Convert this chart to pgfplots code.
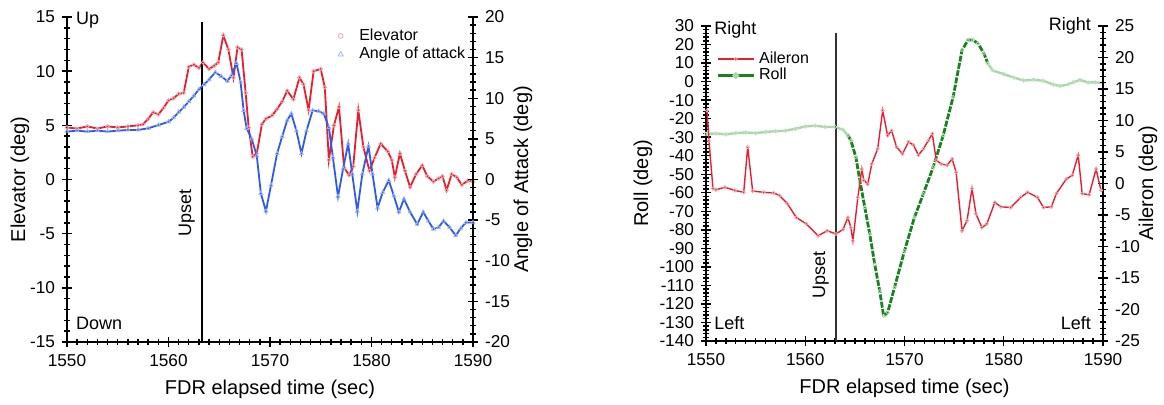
\documentclass[border=0pt]{standalone}
\usepackage{pgfplots}
\usepackage{pgfplotstable}
\pgfplotsset{compat=1.18}
\usepackage{fontspec}
\setmainfont{Liberation Sans}
\definecolor{elevred}{RGB}{232,30,45}
\definecolor{elevpink}{RGB}{245,160,170}
\definecolor{aoablue}{RGB}{45,90,235}
\definecolor{aoapale}{RGB}{160,180,245}
\definecolor{rolldark}{RGB}{25,130,30}
\definecolor{rolllight}{RGB}{170,215,170}

\pgfplotstableread{
t v
1550 4.8
1551 4.7
1552 4.9
1553 4.7
1554 4.9
1555 4.8
1556 4.9
1557 5.0
1557.5 5.1
1558 5.6
1558.5 6.2
1559 6.0
1559.5 6.6
1560 7.3
1560.5 7.5
1561 7.9
1561.5 8.0
1562 10.4
1562.5 10.6
1563 10.3
1563.4 10.8
1564 10.2
1564.5 10.5
1564.9 10.8
1565.4 13.3
1565.9 12.0
1566.4 9.4
1566.8 12.2
1567.2 12.0
1567.6 8.0
1567.9 4.8
1568.3 2.1
1568.7 2.4
1569.2 5.1
1569.6 5.6
1570.2 5.9
1570.7 6.5
1571.2 7.2
1571.7 8.2
1572.3 7.4
1572.9 9.4
1573.3 8.8
1573.8 6.4
1574.3 10.0
1575.0 10.2
1575.4 8.5
1575.8 1.8
1576.3 5.0
1576.8 6.7
1577.3 1.1
1577.8 0.4
1578.2 1.2
1578.7 6.4
1579.2 3.0
1579.8 0.8
1580.3 2.0
1580.9 3.3
1581.6 2.6
1582.0 1.8
1582.3 0.2
1582.8 2.4
1583.3 0.8
1583.8 -0.7
1584.4 0.5
1585.0 1.3
1585.5 0.3
1586.1 -0.2
1586.6 0.1
1587.0 0.3
1587.4 -1.0
1587.9 0.5
1588.4 0.2
1588.9 -0.5
1589.5 -0.1
1590 -0.2
}\elevtab

\pgfplotstableread{
t v
1550 5.9
1551 6.0
1552 5.9
1553 6.0
1554 5.9
1555 6.0
1556 6.1
1557 6.1
1558 6.3
1559 6.7
1560 7.1
1560.5 7.6
1561 8.3
1561.5 8.9
1562 9.6
1562.5 10.3
1563 11.1
1563.5 11.7
1564 12.3
1564.6 13.2
1565.2 12.7
1565.8 12.1
1566.2 12.8
1566.7 14.3
1567.1 12.0
1567.4 8.5
1567.7 6.3
1568.2 5.0
1568.7 2.9
1569.1 -1.7
1569.6 -3.9
1570.1 -0.7
1570.7 3.2
1571.2 5.3
1571.7 7.3
1572.1 8.1
1572.6 6.0
1573.1 3.2
1573.6 6.0
1574.2 8.5
1574.8 8.4
1575.3 8.1
1575.8 6.4
1576.2 2.7
1576.7 -2.1
1577.2 1.3
1577.7 4.4
1578.1 0.7
1578.6 -3.9
1579.1 0.7
1579.7 4.1
1580.1 0.7
1580.6 -3.5
1581.1 -1.6
1581.7 -0.1
1582.2 -2.0
1582.7 -4.0
1583.2 -2.4
1583.8 -4.0
1584.5 -5.5
1585.1 -4.0
1585.6 -5.1
1586.1 -6.1
1586.6 -5.9
1587.1 -5.1
1587.7 -5.9
1588.3 -6.9
1588.8 -6.0
1589.3 -5.3
1590 -5.3
}\aoatab

\pgfplotstableread{
t v
1550 -28.2
1551 -28.0
1552 -28.5
1553 -27.8
1554 -27.5
1555 -27.8
1556 -27.2
1557 -26.8
1558 -26.5
1559 -25.5
1560 -24.2
1561 -23.8
1562 -24.5
1563 -24.5
1563.8 -26.0
1564.3 -29.0
}\rollA

\pgfplotstableread{
t v
1564.3 -29.0
1564.6 -31.8
1565.1 -40.8
1565.5 -53.4
1566.0 -67.9
1566.5 -82.3
1567.0 -98.6
1567.5 -113.0
1567.9 -126.5
1568.3 -124.7
1569.0 -111.0
1570.0 -91.3
1571.0 -73.3
1571.9 -60.6
1572.9 -46.0
1573.9 -29.0
1574.9 -8.3
1575.8 17.0
1576.4 22.4
1576.9 22.4
1577.4 20.6
1578.0 15.2
1578.4 9.7
}\rollB

\pgfplotstableread{
t v
1578.4 9.7
1578.9 6.0
1580 4.0
1581 2.2
1582 0.6
1583 1.0
1584 0.4
1585 -1.6
1585.7 -2.4
1586.5 -1.5
1587 -0.4
1587.7 0.9
1588.5 -0.5
1589.2 -0.4
1590 -0.8
}\rollC

\pgfplotstableread{
t v
1550.1 11.6
1550.3 6.8
1550.7 -0.8
1551.0 -1.0
1551.9 -0.6
1552.9 -1.1
1553.8 -1.4
1554.2 5.8
1554.7 -1.2
1555.8 -1.4
1556.8 -1.5
1557.4 -1.9
1558.2 -3.2
1559.1 -5.4
1560.1 -6.4
1561.3 -8.3
1562.2 -7.5
1563.1 -8.0
1563.8 -7.3
1564.3 -5.4
1564.6 -7.0
1564.8 -9.1
1565.3 -2.2
1565.7 2.3
1565.9 0.5
1566.3 -0.1
1566.7 3.1
1567.3 5.5
1567.8 11.6
1568.3 7.6
1568.7 8.4
1569.2 5.8
1569.8 4.7
1570.4 6.6
1570.9 6.1
1571.4 4.5
1571.9 5.5
1572.4 6.8
1572.8 7.9
1573.2 3.7
1573.7 3.1
1574.3 2.9
1574.8 3.9
1575.2 1.8
1575.8 -7.5
1576.3 -5.9
1576.8 -0.8
1577.2 -4.8
1577.8 -7.0
1578.3 -6.4
1579.1 -3.0
1579.7 -3.7
1580.7 -3.8
1581.7 -2.2
1582.4 -1.4
1583.4 -2.2
1584.0 -3.8
1584.8 -3.7
1585.3 -1.6
1586.3 0.7
1586.9 1.3
1587.5 4.5
1587.9 -1.6
1588.6 -1.8
1589.3 2.3
1589.8 -1.1
}\ailtab

\tikzset{annot/.style={font=\fontsize{9}{10}\selectfont}}
\pgfplotsset{
  base/.style={
    scale only axis, anchor=south west, clip=false,
    xmin=1550, xmax=1590,
    tick align=center,
    major tick length=5pt, minor tick length=3pt,
    tick style={black, line width=0.7pt},
    axis line style={black, line width=1pt, -},
    tick label style={font=\fontsize{8.6}{9}\selectfont},
    label style={font=\fontsize{10}{12}\selectfont},
    /pgf/number format/1000 sep={},
    /pgf/number format/assume math mode=true,
  },
  ylab/.style={every axis y label/.style={at={(axis description cs:#1,0.5)}, rotate=90, anchor=center}},
  legend image code/.code={\draw[mark repeat=2,mark phase=2,#1] plot coordinates {(0pt,0pt) (9pt,0pt) (18pt,0pt)};},
}

\begin{document}
\begin{tikzpicture}
\useasboundingbox (0,0) rectangle (582pt,202.5pt);

% ---------- left panel ----------
\begin{axis}[base, at={(33.5pt,31.5pt)}, width=203pt, height=162.5pt,
  ymin=-15, ymax=15,
  axis x line*=bottom, axis y line*=left,
  xtick={1550,1560,...,1590}, minor x tick num=9,
  ytick={-15,-10,...,15}, minor y tick num=4,
  ylab=-0.116,
  xlabel={FDR elapsed time (sec)}, ylabel={Elevator (deg)}]
\addplot[elevred, line width=0.9pt, mark=o, mark size=0.9pt,
  mark options={draw=elevpink, solid, line width=0.4pt}] table[x=t,y=v]{\elevtab};
\addplot[black, line width=0.8pt] coordinates {(1563.3,-15) (1563.3,14.5)};
\node[annot, rotate=90, anchor=south] at (axis cs:1563.3,-3.1) {Upset};
\node[annot, anchor=west] at (rel axis cs:0.005,0.99) {Up};
\node[annot, anchor=west] at (rel axis cs:0.005,0.058) {Down};
\end{axis}

\begin{axis}[base, at={(33.5pt,31.5pt)}, width=203pt, height=162.5pt,
  ymin=-20, ymax=20,
  axis y line*=right, axis x line=none,
  ytick={-20,-15,...,20}, minor y tick num=4,
  ylab=1.123,
  ylabel={Angle of Attack (deg)},
  legend style={at={(rel axis cs:0.652,0.99)}, anchor=north west, draw=none, fill=none,
    font=\fontsize{8}{9}\selectfont, row sep=-2pt,
    /tikz/every odd column/.append style={column sep=6pt}},
  legend cell align=left]
\addlegendimage{only marks, mark=o, mark size=1.2pt, elevpink}
\addlegendentry{Elevator}
\addlegendimage{only marks, mark=triangle, mark size=1.5pt, aoapale}
\addlegendentry{Angle of attack}
\addplot[aoablue, line width=0.9pt, mark=triangle, mark size=1.1pt, forget plot,
  mark options={draw=aoapale, solid, line width=0.4pt}] table[x=t,y=v]{\aoatab};
\end{axis}

% ---------- right panel ----------
\begin{axis}[base, at={(353pt,32pt)}, width=198.5pt, height=157.5pt,
  ymin=-140, ymax=30,
  axis x line*=bottom, axis y line*=left,
  xtick={1550,1560,...,1590}, minor x tick num=9,
  ytick={-140,-130,...,30}, minor y tick num=4,
  ylab=-0.159,
  xlabel={FDR elapsed time (sec)}, ylabel={Roll (deg)}]
\addplot[rolllight, line width=1.2pt, mark=o, mark size=0.9pt,
  mark options={draw=rolllight!70!white, solid, line width=0.4pt}] table[x=t,y=v]{\rollA};
\addplot[rolldark, line width=1.4pt, dash pattern=on 3pt off 0.7pt, mark=o, mark size=0.8pt,
  mark options={draw=rolllight, solid, line width=0.4pt}] table[x=t,y=v]{\rollB};
\addplot[rolllight, line width=1.2pt, mark=o, mark size=0.9pt,
  mark options={draw=rolllight!70!white, solid, line width=0.4pt}] table[x=t,y=v]{\rollC};
\addplot[black!80, line width=0.7pt] coordinates {(1563.1,-140) (1563.1,26.2)};
\node[annot, rotate=90, anchor=south] at (axis cs:1563.1,-104.4) {Upset};
\node[annot, anchor=west] at (rel axis cs:0.003,0.987) {Right};
\node[annot, anchor=west] at (rel axis cs:0.003,0.057) {Left};
\node[annot, anchor=east] at (rel axis cs:0.987,1.0) {Right};
\node[annot, anchor=east] at (rel axis cs:0.987,0.057) {Left};
\end{axis}

\begin{axis}[base, at={(353pt,32pt)}, width=198.5pt, height=157.5pt,
  ymin=-25, ymax=25,
  axis y line*=right, axis x line=none,
  ytick={-25,-20,...,25}, minor y tick num=4,
  ylab=1.113,
  ylabel={Aileron (deg)},
  legend style={at={(rel axis cs:0.01,0.945)}, anchor=north west, draw=none, fill=none,
    font=\fontsize{8}{9}\selectfont, row sep=-3pt},
  legend cell align=left]
\addplot[elevred, line width=0.7pt, mark=o, mark size=0.8pt,
  mark options={draw=elevpink, solid, line width=0.4pt}] table[x=t,y=v]{\ailtab};
\addlegendentry{Aileron}
\addlegendimage{rolldark, line width=1.4pt, mark=o, mark size=0.9pt, mark options={draw=rolllight, fill=white}}
\addlegendentry{Roll}
\end{axis}
\end{tikzpicture}
\end{document}
